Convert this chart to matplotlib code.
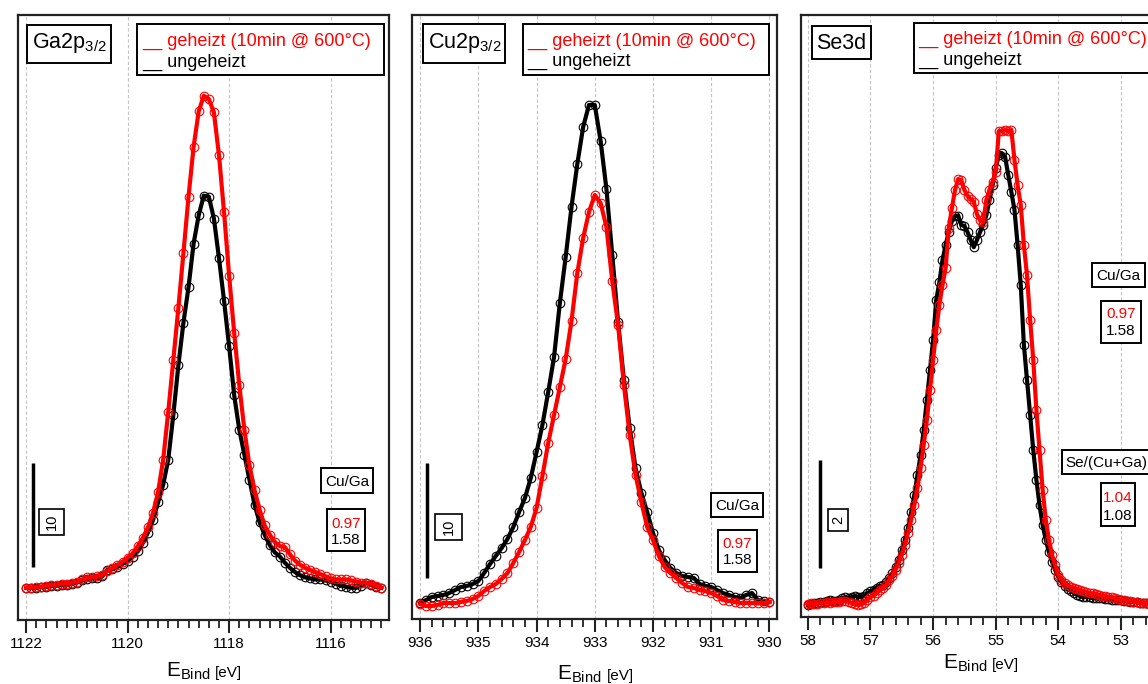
import matplotlib
matplotlib.use('Agg')
import matplotlib.pyplot as plt
import matplotlib.transforms as mtransforms
from matplotlib.patches import Rectangle
from matplotlib.ticker import MultipleLocator

plt.rcParams['font.family'] = ['Liberation Sans', 'DejaVu Sans']
plt.rcParams['mathtext.fontset'] = 'custom'
plt.rcParams['mathtext.rm'] = 'Liberation Sans'
plt.rcParams['mathtext.it'] = 'Liberation Sans:italic'
plt.rcParams['mathtext.bf'] = 'Liberation Sans:bold'

# ---------------- data ----------------
# Ga2p3/2
E_ga = [1122.0, 1121.9, 1121.8, 1121.7, 1121.6, 1121.5, 1121.4, 1121.3, 1121.2, 1121.1,
        1121.0, 1120.9, 1120.8, 1120.7, 1120.6, 1120.5, 1120.4, 1120.3, 1120.2, 1120.1,
        1120.0, 1119.9, 1119.8, 1119.7, 1119.6, 1119.5, 1119.4, 1119.3, 1119.2, 1119.1,
        1119.0, 1118.9, 1118.8, 1118.7, 1118.6, 1118.5, 1118.4, 1118.3, 1118.2, 1118.1,
        1118.0, 1117.9, 1117.8, 1117.7, 1117.6, 1117.5, 1117.4, 1117.3, 1117.2, 1117.1,
        1117.0, 1116.9, 1116.8, 1116.7, 1116.6, 1116.5, 1116.4, 1116.3, 1116.2, 1116.1,
        1116.0, 1115.9, 1115.8, 1115.7, 1115.6, 1115.5, 1115.4, 1115.3, 1115.2, 1115.1,
        1115.0]
ga_heated = [3.1, 3.1, 3.2, 3.2, 3.3, 3.4, 3.4, 3.5, 3.5, 3.6,
             3.7, 3.9, 4.1, 4.1, 4.2, 4.3, 4.7, 5.0, 5.3, 5.6,
             6.0, 6.4, 7.1, 7.9, 8.9, 10.3, 12.3, 15.4, 20.0, 25.0,
             30.0, 35.3, 40.7, 45.5, 48.9, 50.4, 50.1, 48.8, 44.7, 39.2,
             33.1, 27.6, 22.6, 18.3, 14.9, 12.5, 10.6, 9.1, 8.2, 7.5,
             7.1, 7.0, 6.3, 5.7, 5.3, 5.0, 4.8, 4.6, 4.4, 4.2,
             4.0, 3.9, 3.9, 3.9, 3.8, 3.7, 3.6, 3.6, 3.5, 3.3,
             3.1]
ga_unheated = [3.1, 3.1, 3.1, 3.2, 3.2, 3.3, 3.3, 3.4, 3.4, 3.5,
               3.6, 3.8, 3.9, 4.0, 4.0, 4.2, 4.8, 4.9, 5.1, 5.4,
               5.7, 6.1, 6.6, 7.4, 8.4, 9.6, 11.3, 13.0, 15.4, 19.7,
               24.5, 28.6, 32.0, 36.2, 38.9, 40.8, 40.7, 38.6, 34.8, 30.7,
               26.3, 21.6, 18.3, 15.9, 13.5, 11.1, 9.4, 8.2, 7.2, 6.5,
               6.1, 5.5, 5.0, 4.6, 4.3, 4.1, 4.0, 3.9, 3.9, 3.8,
               3.7, 3.5, 3.3, 3.2, 3.1, 3.1, 3.3, 3.6, 3.4, 3.2,
               3.1]

# Cu2p3/2
E_cu = [936.0, 935.9, 935.8, 935.7, 935.6, 935.5, 935.4, 935.3, 935.2, 935.1,
        935.0, 934.9, 934.8, 934.7, 934.6, 934.5, 934.4, 934.3, 934.2, 934.1,
        934.0, 933.9, 933.8, 933.7, 933.6, 933.5, 933.4, 933.3, 933.2, 933.1,
        933.0, 932.9, 932.8, 932.7, 932.6, 932.5, 932.4, 932.3, 932.2, 932.1,
        932.0, 931.9, 931.8, 931.7, 931.6, 931.5, 931.4, 931.3, 931.2, 931.1,
        931.0, 930.9, 930.8, 930.7, 930.6, 930.5, 930.4, 930.3, 930.2, 930.1,
        930.0]
cu_heated = [1.30, 1.13, 1.13, 1.22, 1.39, 1.39, 1.39, 1.48, 1.57, 1.74,
             2.00, 2.43, 2.78, 3.04, 3.48, 4.00, 4.87, 5.83, 6.87, 8.00,
             9.65, 12.43, 15.30, 17.74, 20.17, 22.61, 25.91, 30.09, 33.13, 35.39,
             36.87, 36.17, 34.09, 29.39, 25.57, 20.35, 16.00, 12.52, 10.17, 8.00,
             6.87, 5.48, 4.52, 4.00, 3.57, 3.13, 2.78, 2.70, 2.52, 2.43,
             2.26, 2.00, 1.65, 1.57, 1.48, 1.39, 1.39, 1.39, 1.39, 1.39,
             1.48]
cu_unheated = [1.39, 1.65, 1.91, 2.00, 2.09, 2.26, 2.52, 2.78, 2.87, 3.04,
               3.30, 4.00, 4.78, 5.48, 6.17, 6.96, 8.00, 9.30, 10.52, 12.26,
               14.52, 16.87, 19.74, 22.78, 27.48, 31.48, 35.83, 39.57, 42.78, 44.70,
               44.70, 41.57, 37.39, 31.65, 25.83, 20.78, 16.61, 13.13, 10.96, 9.30,
               7.48, 6.00, 5.13, 4.43, 4.00, 3.74, 3.65, 3.57, 3.04, 2.87,
               2.78, 2.52, 2.26, 2.09, 1.91, 1.83, 2.09, 2.26, 1.65, 1.57,
               1.48]

# Se3d
E_se = [58.00, 57.95, 57.90, 57.85, 57.80, 57.75, 57.70, 57.65, 57.60, 57.55,
        57.50, 57.45, 57.40, 57.35, 57.30, 57.25, 57.20, 57.15, 57.10, 57.05,
        57.00, 56.95, 56.90, 56.85, 56.80, 56.75, 56.70, 56.65, 56.60, 56.55,
        56.50, 56.45, 56.40, 56.35, 56.30, 56.25, 56.20, 56.15, 56.10, 56.05,
        56.00, 55.95, 55.90, 55.85, 55.80, 55.75, 55.70, 55.65, 55.60, 55.55,
        55.50, 55.45, 55.40, 55.35, 55.30, 55.25, 55.20, 55.15, 55.10, 55.05,
        55.00, 54.95, 54.90, 54.85, 54.80, 54.75, 54.70, 54.65, 54.60, 54.55,
        54.50, 54.45, 54.40, 54.35, 54.30, 54.25, 54.20, 54.15, 54.10, 54.05,
        54.00, 53.95, 53.90, 53.85, 53.80, 53.75, 53.70, 53.65, 53.60, 53.55,
        53.50, 53.45, 53.40, 53.35, 53.30, 53.25, 53.20, 53.15, 53.10, 53.05,
        53.00, 52.95, 52.90, 52.85, 52.80, 52.75, 52.70, 52.65, 52.60, 52.55,
        52.50]
se_heated = [0.24, 0.26, 0.24, 0.24, 0.26, 0.26, 0.28, 0.26, 0.28, 0.28,
             0.28, 0.30, 0.30, 0.28, 0.26, 0.24, 0.22, 0.24, 0.26, 0.31,
             0.37, 0.39, 0.44, 0.50, 0.54, 0.59, 0.69, 0.76, 0.87, 1.00,
             1.15, 1.33, 1.56, 1.80, 2.07, 2.39, 2.76, 3.19, 3.65, 4.20,
             4.76, 5.31, 5.78, 6.15, 6.46, 7.20, 7.57, 7.91, 8.11, 8.09,
             7.91, 7.80, 7.74, 7.69, 7.46, 7.35, 7.31, 7.72, 7.91, 8.06,
             8.24, 9.00, 9.00, 9.02, 9.00, 9.02, 8.46, 8.00, 7.63, 6.89,
             6.33, 5.50, 4.76, 3.83, 3.09, 2.35, 1.80, 1.43, 1.15, 0.96,
             0.78, 0.69, 0.63, 0.59, 0.56, 0.54, 0.52, 0.50, 0.48, 0.46,
             0.44, 0.44, 0.43, 0.41, 0.39, 0.39, 0.37, 0.37, 0.35, 0.33,
             0.31, 0.31, 0.30, 0.30, 0.28, 0.28, 0.26, 0.26, 0.26, 0.24,
             0.24]
se_unheated = [0.22, 0.24, 0.26, 0.26, 0.28, 0.28, 0.30, 0.31, 0.30, 0.30,
               0.31, 0.35, 0.37, 0.35, 0.37, 0.39, 0.37, 0.37, 0.39, 0.44,
               0.48, 0.50, 0.54, 0.57, 0.59, 0.65, 0.72, 0.81, 0.93, 1.06,
               1.24, 1.43, 1.65, 1.94, 2.26, 2.63, 3.00, 3.46, 4.02, 4.57,
               5.13, 5.87, 6.20, 6.61, 6.89, 7.13, 7.33, 7.43, 7.43, 7.26,
               7.24, 7.13, 6.98, 6.85, 6.98, 7.13, 7.26, 7.44, 7.72, 8.00,
               8.31, 8.56, 8.59, 8.52, 8.19, 7.87, 7.54, 6.89, 6.15, 5.04,
               4.39, 3.74, 3.09, 2.54, 2.07, 1.70, 1.43, 1.20, 1.02, 0.87,
               0.74, 0.65, 0.57, 0.52, 0.48, 0.44, 0.41, 0.39, 0.37, 0.37,
               0.37, 0.35, 0.35, 0.35, 0.35, 0.33, 0.33, 0.31, 0.31, 0.31,
               0.31, 0.30, 0.30, 0.28, 0.28, 0.28, 0.26, 0.26, 0.26, 0.24,
               0.24]

titles = ['Ga2p$_{\\mathregular{3/2}}$', 'Cu2p$_{\\mathregular{3/2}}$', 'Se3d']
ticks_ga = [1122, 1120, 1118, 1116]
ticks_cu = [936, 935, 934, 933, 932, 931, 930]
ticks_se = [58, 57, 56, 55, 54, 53]
scale_values = [10, 10, 2]
label_heated = '__ geheizt (10min @ 600°C)'
label_unheated = '__ ungeheizt'
ratio_cuga = ['0.97', '1.58']
ratio_se = ['1.04', '1.08']

# ---------------- layout helpers ----------------
W, H = 1148, 684
fig = plt.figure(figsize=(W / 100, H / 100), dpi=100)
fig.patch.set_facecolor('white')


def fx(x):
    return x / W


def fy(y):
    return 1 - y / H


def rect(l, t, r, b, lw=1.4):
    p = Rectangle((fx(l), fy(b)), (r - l) / W, (b - t) / H, transform=fig.transFigure,
                  facecolor='white', edgecolor='black', linewidth=lw, zorder=5)
    fig.add_artist(p)


def ftext(x, y, s, **kw):
    kw.setdefault('zorder', 6)
    kw.setdefault('va', 'baseline')
    fig.text(fx(x), fy(y), s, **kw)


RED = '#ff0000'

panels = [
    dict(box=(18, 389, 15, 620), xlim=(1122.16, 1114.85), E=E_ga, yh=ga_heated, yu=ga_unheated,
         ticks=ticks_ga, ylim=(0, 58.17), bar_x=0.040, bar_y0=5.1,
         scale_box=(39, 509, 64, 535), title_box=(27, 25, 111, 63), title_xy=(32, 48),
         leg_box=(137, 24, 384, 75), leg_xy=(142, 46, 67),
         xl_E=(166, 677), xl_eV=215),
    dict(box=(412, 777, 15, 619), xlim=(936.14, 929.87), E=E_cu, yh=cu_heated, yu=cu_unheated,
         ticks=ticks_cu, ylim=(0, 52.52), bar_x=0.041, bar_y0=3.57,
         scale_box=(435, 514, 462, 540), title_box=(423, 24, 505, 63), title_xy=(428, 48),
         leg_box=(523, 24, 769, 75), leg_xy=(527, 46, 66),
         xl_E=(557, 680), xl_eV=607),
    dict(box=(801, 1166, 15, 617), xlim=(58.11, 52.28), E=E_se, yh=se_heated, yu=se_unheated,
         ticks=ticks_se, ylim=(0, 11.15), bar_x=0.052, bar_y0=0.91,
         scale_box=(828, 509, 848, 531), title_box=(812, 26, 871, 59), title_xy=(816, 49),
         leg_box=(914, 23, 1162, 73), leg_xy=(918, 44, 65),
         xl_E=(943, 669), xl_eV=992),
]

for i, p in enumerate(panels):
    l, r, t, b = p['box']
    ax = fig.add_axes([fx(l), fy(b), (r - l) / W, (b - t) / H])
    ax.set_facecolor('white')
    ax.plot(p['E'], p['yu'], color='black', lw=3.0, marker='o', ms=6.2, mfc='none',
            mec='black', mew=0.8, zorder=3)
    ax.plot(p['E'], p['yh'], color=RED, lw=3.0, marker='o', ms=6.2, mfc='none',
            mec=RED, mew=0.8, zorder=4)
    ax.set_xlim(*p['xlim'])
    ax.set_ylim(*p['ylim'])
    ax.set_yticks([])
    ax.set_xticks(p['ticks'])
    ax.set_xticklabels([str(v) for v in p['ticks']])
    ax.xaxis.set_minor_locator(MultipleLocator(0.2))
    ax.tick_params(axis='x', which='major', direction='out', length=9.5, width=1.5,
                   labelsize=11, pad=3, color='#222222')
    ax.tick_params(axis='x', which='minor', direction='out', length=5.5, width=1.3,
                   color='#222222')
    ax.grid(True, axis='x', which='major', color='#c4c4c4', linestyle=(0, (3, 2)),
            linewidth=0.8)
    ax.set_axisbelow(True)
    for s in ax.spines.values():
        s.set_linewidth(1.6)
        s.set_color('#222222')

    # scale bar (in data units)
    trans = mtransforms.blended_transform_factory(ax.transAxes, ax.transData)
    ax.plot([p['bar_x'], p['bar_x']], [p['bar_y0'], p['bar_y0'] + scale_values[i]],
            transform=trans, color='black', lw=2.5, solid_capstyle='butt', zorder=5)
    sl, st, sr, sb = p['scale_box']
    rect(sl, st, sr, sb, lw=1.2)
    ftext((sl + sr) / 2, (st + sb) / 2, str(scale_values[i]), rotation=90,
          ha='center', va='center', fontsize=10.5)

    # title box
    rect(*p['title_box'])
    ftext(p['title_xy'][0], p['title_xy'][1], titles[i], fontsize=15.5, ha='left')

    # legend box
    rect(*p['leg_box'])
    lx, ly1, ly2 = p['leg_xy']
    ftext(lx, ly1, label_heated, color=RED, fontsize=13, ha='left')
    ftext(lx, ly2, label_unheated, color='black', fontsize=13, ha='left')

    # x label
    ftext(p['xl_E'][0], p['xl_E'][1], 'E$_{\\mathregular{Bind}}$', fontsize=15, ha='left')
    ftext(p['xl_eV'], p['xl_E'][1], '[eV]', fontsize=11, ha='left')

# ratio annotations
# panel 1
rect(321, 468, 373, 493)
ftext(347, 486, 'Cu/Ga', fontsize=11, ha='center')
rect(327, 509, 365, 551)
ftext(346, 527.5, ratio_cuga[0], color=RED, fontsize=11, ha='center')
ftext(346, 544.5, ratio_cuga[1], color='black', fontsize=11, ha='center')
# panel 2
rect(711, 493, 763, 517)
ftext(737, 510.5, 'Cu/Ga', fontsize=11, ha='center')
rect(718, 530, 757, 572)
ftext(737.5, 548.5, ratio_cuga[0], color=RED, fontsize=11, ha='center')
ftext(737.5, 564.5, ratio_cuga[1], color='black', fontsize=11, ha='center')
# panel 3
rect(1092, 263, 1145, 287)
ftext(1118.5, 280.5, 'Cu/Ga', fontsize=11, ha='center')
rect(1101, 301, 1141, 343)
ftext(1121, 317.5, ratio_cuga[0], color=RED, fontsize=11, ha='center')
ftext(1121, 335.5, ratio_cuga[1], color='black', fontsize=11, ha='center')
rect(1062, 450, 1162, 474)
ftext(1065, 467.5, 'Se/(Cu+Ga)', fontsize=11, ha='left')
rect(1101, 483, 1135, 526)
ftext(1118, 502.5, ratio_se[0], color=RED, fontsize=11, ha='center')
ftext(1118, 520.5, ratio_se[1], color='black', fontsize=11, ha='center')

fig.savefig('out.png', dpi=100)
